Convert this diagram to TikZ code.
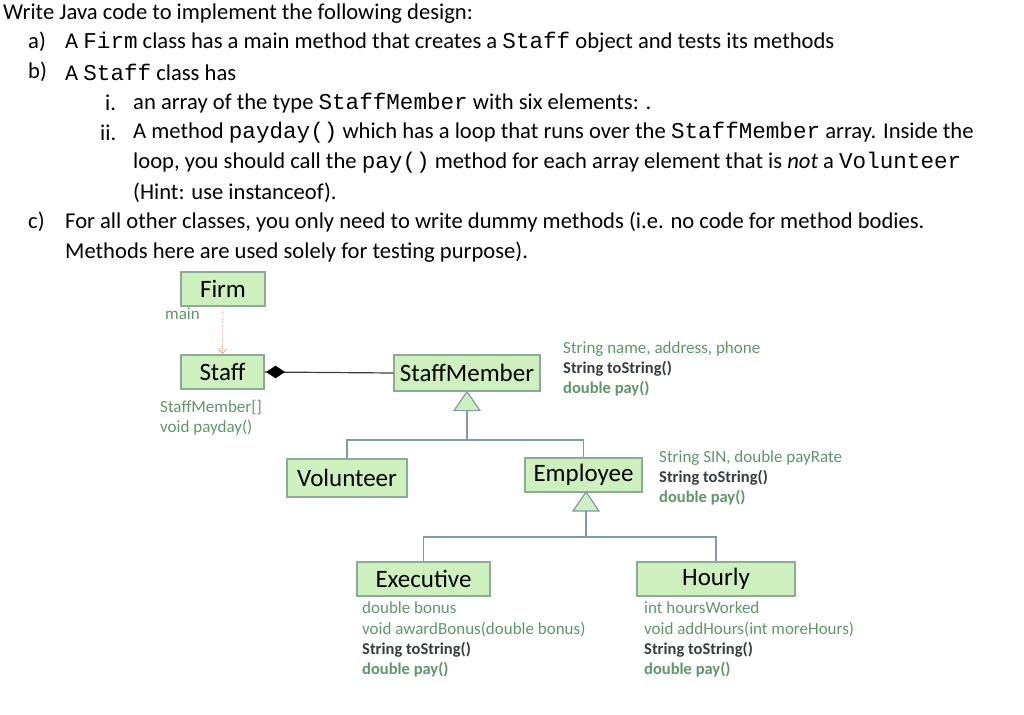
\documentclass[tikz,border=0pt]{standalone}
\usepackage{fontspec}
\setmainfont{Carlito}
\newfontfamily\codef{Liberation Mono}
\usetikzlibrary{arrows.meta}
\definecolor{boxfill}{RGB}{205,240,190}
\definecolor{boxdraw}{RGB}{140,170,150}
\definecolor{attr}{RGB}{95,150,105}
\definecolor{conn}{RGB}{125,155,175}
\definecolor{dark}{RGB}{55,60,65}
\begin{document}
\begin{tikzpicture}[x=1pt,y=-1pt,
  cls/.style={draw=boxdraw,line width=1.2pt,fill=boxfill,inner sep=0pt,font=\fontsize{25}{28}\selectfont},
  hd/.style={anchor=west,inner sep=0pt,font=\fontsize{22.6}{26}\selectfont},
  atr/.style={anchor=west,inner sep=0pt,text=attr,font=\fontsize{17}{20}\selectfont},
  atb/.style={anchor=west,inner sep=0pt,text=dark,font=\bfseries\fontsize{16.5}{20}\selectfont},
  atg/.style={anchor=west,inner sep=0pt,text=attr,font=\bfseries\fontsize{16.5}{20}\selectfont},
  cn/.style={draw=conn,line width=1.5pt},
  tri/.style={draw=conn,line width=1.2pt,fill=boxfill}]
\useasboundingbox (0,0) rectangle (1024,714);
\newcommand\cc[1]{{\codef #1}}
% header
\node[hd] (h0) at (3,14) {Write Java code to implement the following design:};
\node[hd] (ha) at (28,42) {a)};
\node[hd] (ta) at (65,42) {A \cc{Firm} class has a main method that creates a \cc{Staff} object and tests its methods};
\node[hd] (hb) at (28,72) {b)};
\node[hd] (tb) at (65,72) {A \cc{Staff} class has};
\node[hd] (hi) at (105,103) {i.};
\node[hd] (ti) at (133,103) {an array of the type \cc{StaffMember} with six elements: .};
\node[hd] (hii) at (100,133) {ii.};
\node[hd] (tii) at (133,133) {A method \cc{payday()} which has a loop that runs over the \cc{StaffMember} array. Inside the};
\node[hd] (tii2) at (133,163) {loop, you should call the \cc{pay()} method for each array element that is \textit{not} a \cc{Volunteer}};
\node[hd] (tii3) at (133,193) {(Hint: use instanceof).};
\node[hd] (hc) at (28,222) {c)};
\node[hd] (tc) at (65,222) {For all other classes, you only need to write dummy methods (i.e. no code for method bodies.};
\node[hd] (tc2) at (65,252) {Methods here are used solely for testing purpose).};
% classes
\node[cls,minimum width=84,minimum height=34] (firm) at (223,289) {Firm};
\node[cls,minimum width=83,minimum height=34] (staff) at (222.5,372) {Staff};
\node[cls,minimum width=146,minimum height=36] (sm) at (467,373) {StaffMember};
\node[cls,minimum width=120,minimum height=38] (vol) at (347,478) {Volunteer};
\node[cls,minimum width=117,minimum height=34] (emp) at (583.5,475) {Employee};
\node[cls,minimum width=133,minimum height=34] (exe) at (423.5,579) {Executive};
\node[cls,minimum width=158,minimum height=34] (hour) at (716,579) {Hourly};
% connectors
\draw[densely dotted,draw={rgb,255:red,230;green,160;blue,130},line width=0.8pt,-{Straight Barb[length=5pt,width=8pt]}] (firm.south) -- (staff.north);
\draw[line width=1.2pt,draw=dark] (sm.west) -- (staff.east);
\draw[fill=black] ([xshift=2]staff.east) -- ++(9,-6) -- ++(9,6) -- ++(-9,6) -- cycle;
\coordinate (j1) at (467,440);
\coordinate (j2) at (586,537);
\draw[cn] (j1) -- (467,411);
\draw[tri] (sm.south) -- ++(13,19) -- ++(-26,0) -- cycle;
\draw[cn] (vol.north) |- (j1) -| (emp.north);
\draw[cn] (j2) -- (586,511);
\draw[tri] (586,492) -- ++(13,19) -- ++(-26,0) -- cycle;
\draw[cn] (exe.north) |- (j2) -| (hour.north);
% attributes
\node[atr] (am) at (165,314) {main};
\node[atr] (as1) at (160,408) {StaffMember[]};
\node[atr] (as2) at (160,428) {void payday()};
\node[atr] (sm1) at (563,349) {String name, address, phone};
\node[atb] (sm2) at (563,369) {String toString()};
\node[atg] (sm3) at (563,389) {double pay()};
\node[atr] (e1) at (659,458) {String SIN, double payRate};
\node[atb] (e2) at (659,478) {String toString()};
\node[atg] (e3) at (659,498) {double pay()};
\node[atr] (x1) at (362,608) {double bonus};
\node[atr] (x2) at (362,629) {void awardBonus(double bonus)};
\node[atb] (x3) at (362,650) {String toString()};
\node[atg] (x4) at (362,670) {double pay()};
\node[atr] (y1) at (644,608) {int hoursWorked};
\node[atr] (y2) at (644,629) {void addHours(int moreHours)};
\node[atb] (y3) at (644,650) {String toString()};
\node[atg] (y4) at (644,670) {double pay()};
\end{tikzpicture}
\end{document}
